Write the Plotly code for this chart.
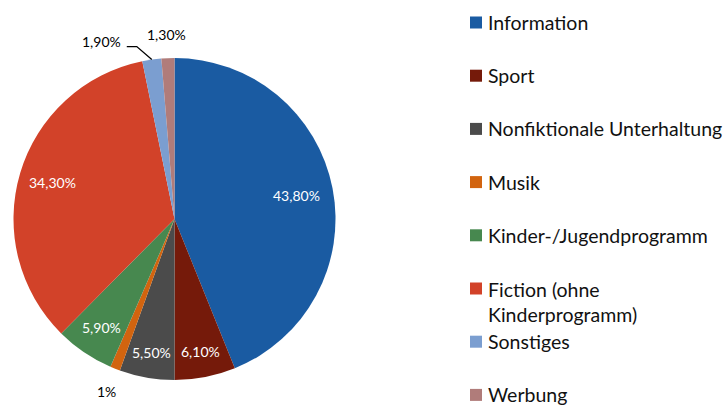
import math
import plotly.graph_objects as go

categories = ["Information", "Sport", "Nonfiktionale Unterhaltung", "Musik",
              "Kinder-/Jugendprogramm", "Fiction (ohne Kinderprogramm)", "Sonstiges", "Werbung"]
legend_labels = ["Information", "Sport", "Nonfiktionale Unterhaltung", "Musik",
                 "Kinder-/Jugendprogramm", "Fiction (ohne<br>Kinderprogramm)", "Sonstiges", "Werbung"]
values = [43.8, 6.1, 5.5, 1.0, 5.9, 34.3, 1.9, 1.3]
value_labels = ["43,80%", "6,10%", "5,50%", "1%", "5,90%", "34,30%", "1,90%", "1,30%"]

# styling (not data)
colors = ["#1A5BA2", "#751A0A", "#4B4B4B", "#D2640F", "#47884F", "#D24229", "#7B9ED0", "#B07C7A"]
label_radius = [0.77, 0.84, 0.84, 1.15, 0.81, 0.79, None, 1.15]   # fraction of pie radius
label_color = ["white", "white", "white", "black", "white", "white", "black", "black"]

W, H = 726, 406
cx, cy, R = 174.5, 219, 161

fig = go.Figure()
fig.add_trace(go.Pie(
    labels=categories, values=values, textinfo="none",
    marker=dict(colors=colors, line=dict(width=0)),
    sort=False, direction="clockwise", rotation=0,
    showlegend=False, hoverinfo="label+percent",
    domain=dict(x=[(cx - R) / W, (cx + R) / W], y=[(H - cy - R) / H, (H - cy + R) / H]),
))

def px(x, y):
    return x / W, 1 - y / H

# slice value labels placed along each slice's mid-angle
total = sum(values)
start = 0.0
for v, lab, f, col in zip(values, value_labels, label_radius, label_color):
    mid = (start + v / 2) / total * 2 * math.pi
    start += v
    sx, sy = math.sin(mid), -math.cos(mid)
    if f is None:
        # leader line from slice edge
        ex, ey = cx + R * sx, cy + R * sy
        kx, ky = ex - 15, ey - 13
        tx, ty = kx - 10, ky
        fig.add_shape(type="path", xref="paper", yref="paper",
                      path="M {} {} L {} {} L {} {}".format(*px(ex, ey), *px(kx, ky), *px(tx, ty)),
                      line=dict(color="black", width=1.3))
        x, y = px(tx - 4, ty - 5)
        fig.add_annotation(xref="paper", yref="paper", x=x, y=y, xanchor="right", yanchor="middle",
                           text=lab, showarrow=False, font=dict(family="Lato", size=14, color=col))
    else:
        x, y = px(cx + f * R * sx, cy + f * R * sy)
        fig.add_annotation(xref="paper", yref="paper", x=x, y=y, xanchor="center", yanchor="middle",
                           text=lab, showarrow=False, font=dict(family="Lato", size=14, color=col))

# manual legend
lx0, lsize, ltext, ly0, lstep, lh = 470, 12, 486, 22.5, 53.2, 26
for i, (lab, col) in enumerate(zip(legend_labels, colors)):
    yc = ly0 + i * lstep
    fig.add_shape(type="rect", xref="paper", yref="paper",
                  x0=lx0 / W, x1=(lx0 + lsize) / W,
                  y0=1 - (yc + lsize / 2) / H, y1=1 - (yc - lsize / 2) / H,
                  fillcolor=col, line=dict(width=0))
    nlines = lab.count("<br>") + 1
    x, y = px(ltext, yc + (nlines - 1) * lh / 2)
    fig.add_annotation(xref="paper", yref="paper", x=x, y=y,
                       xanchor="left", yanchor="middle", align="left", showarrow=False,
                       text=lab, font=dict(family="Lato", size=19.5, color="#111111"))

fig.update_layout(width=W, height=H, margin=dict(l=0, r=0, t=0, b=0),
                  paper_bgcolor="white", plot_bgcolor="white")
fig.write_html("out.html", config={"displayModeBar": False},
               post_script="document.body.style.margin='0px';")
